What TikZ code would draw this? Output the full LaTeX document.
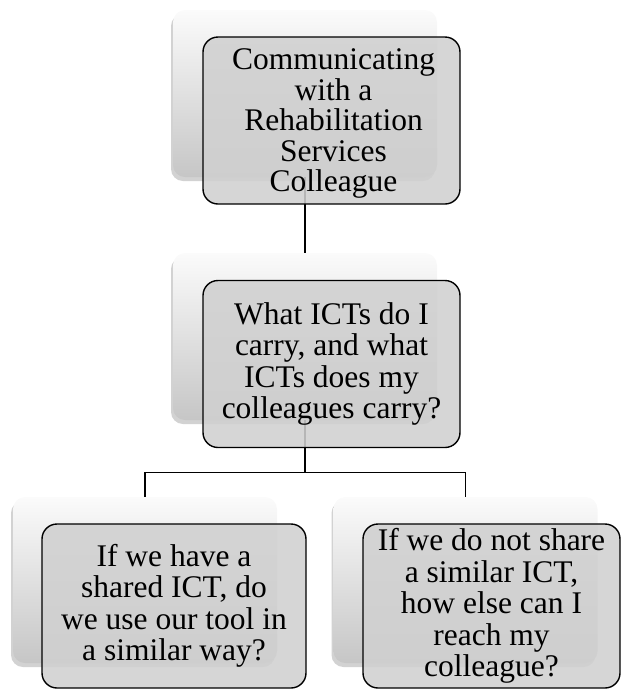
\documentclass[tikz,border=0pt]{standalone}
\usepackage{fontspec}
\setmainfont{Liberation Serif}
\usetikzlibrary{shadows,calc}
\definecolor{backtop}{HTML}{FBFBFB}
\definecolor{backmid}{HTML}{EEEEEE}
\definecolor{backbot}{HTML}{C6C6C6}
\definecolor{frontfill}{HTML}{D0D0D0}
\tikzset{
  backbox/.style={rectangle, rounded corners=12pt, inner sep=0pt,
    minimum width=264pt, minimum height=167pt,
    top color=backtop, middle color=backmid, bottom color=backbot,
    drop shadow={shadow xshift=-2pt, shadow yshift=-4pt, opacity=0.25, fill=black!70}},
  frontbox/.style={rectangle, rounded corners=15pt, inner sep=0pt,
    draw=black, line width=1.4pt, fill=frontfill, fill opacity=0.88, text opacity=1,
    minimum width=257pt, minimum height=167pt, align=center,
    font=\fontsize{31.5}{31.5}\selectfont},
  link/.style={draw=black, line width=1.4pt}
}
\begin{document}
\begin{tikzpicture}[x=1pt, y=1pt]
\useasboundingbox (0,0) rectangle (621,-689);
% back boxes
\node[backbox] (tb) at (305,-93.5) {};
\node[backbox] (mb) at (305,-336.5) {};
\node[backbox, minimum height=166pt] (lb) at (145,-580) {};
\node[backbox, minimum height=166pt] (rb) at (465.5,-580) {};
% connectors
\draw[link] (tb.south) -- (mb.north);
\coordinate (hub) at ($(mb.south)+(0,-52)$);
\draw[link] (mb.south) -- (hub) -| (lb.north);
\draw[link] (hub) -| (rb.north);
% front boxes
\node[frontbox] (tf) at (331.5,-120.5) {};
\node[align=center, inner sep=0pt, font=\fontsize{31.5}{30.5}\selectfont] (tt) at ($(tf.center)+(2,-3)$) {Communicating\\with a\\Rehabilitation\\Services\\Colleague};
\node[frontbox] (mf) at (331.5,-364) {What ICTs do I\\carry, and what\\ICTs does my\\colleagues carry?};
\node[frontbox, minimum width=264pt, minimum height=164pt] (lf) at (174,-606) {If we have a\\shared ICT, do\\we use our tool in\\a similar way?};
\node[frontbox, minimum height=164pt] (rf) at (491.5,-606) {If we do not share\\a similar ICT,\\how else can I\\reach my\\colleague?};
\end{tikzpicture}
\end{document}
